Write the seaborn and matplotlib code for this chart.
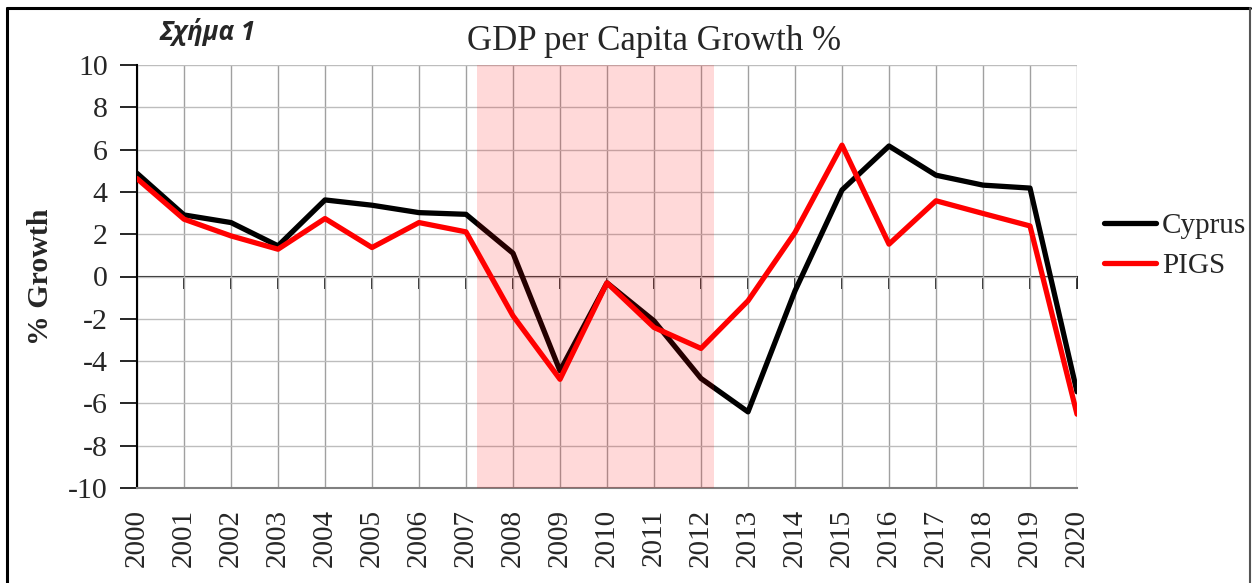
import matplotlib
matplotlib.use("Agg")
import matplotlib.pyplot as plt
import seaborn as sns
import pandas as pd
from matplotlib.lines import Line2D

years = list(range(2000, 2021))
cyprus = [4.88, 2.91, 2.55, 1.45, 3.62, 3.37, 3.02, 2.94, 1.10, -4.46, -0.30,
          -2.10, -4.82, -6.40, -0.68, 4.09, 6.17, 4.79, 4.32, 4.18, -5.45]
pigs = [4.63, 2.71, 1.92, 1.29, 2.74, 1.37, 2.55, 2.11, -1.86, -4.86, -0.30,
        -2.41, -3.40, -1.15, 2.08, 6.21, 1.53, 3.58, 2.98, 2.39, -6.51]
series_names = ["Cyprus", "PIGS"]
series_colors = ["black", "red"]
crisis_span = (2007.23, 2012.28)
title = "GDP per Capita Growth %"
ylabel = "% Growth"
figure_label = "Σχήμα 1"

df = pd.concat([
    pd.DataFrame({"Year": years, "Growth": cyprus, "Country": series_names[0]}),
    pd.DataFrame({"Year": years, "Growth": pigs, "Country": series_names[1]}),
])

sns.set_style("white")
plt.rcParams["font.family"] = ["Liberation Serif", "DejaVu Serif"]

W, H = 1252, 583
fig = plt.figure(figsize=(W / 100, H / 100), dpi=100)
ax = fig.add_axes([137 / W, 1 - 488 / H, (1077 - 137) / W, (488 - 65) / H])

sns.lineplot(data=df, x="Year", y="Growth", hue="Country",
             palette=dict(zip(series_names, series_colors)),
             linewidth=3.8, ax=ax, legend=False, zorder=5)

ax.set_xlim(2000, 2020)
ax.set_ylim(-10, 10)
ax.set_xticks(years)
ax.set_xticklabels([str(y) for y in years], rotation=90, fontsize=21)
ax.set_yticks(range(-10, 11, 2))
ax.set_yticklabels([str(v) for v in range(-10, 11, 2)], fontsize=21.5)
ax.tick_params(axis="x", length=0, pad=15)
ax.tick_params(axis="y", direction="out", length=12, width=1.2, color="black", pad=9, left=True)
ax.set_xlabel("")
ax.set_ylabel("")

ax.grid(True, axis="x", color="#a0a0a0", linewidth=1.0, zorder=1)
ax.grid(True, axis="y", color="#bdbdbd", linewidth=1.0, zorder=1)
ax.set_axisbelow(True)
for s in ["top", "right"]:
    ax.spines[s].set_visible(False)
ax.spines["left"].set_color("black")
ax.spines["left"].set_linewidth(1.5)
ax.spines["bottom"].set_color("#808080")
ax.spines["bottom"].set_linewidth(1.5)

# category axis crossing at zero
sec = ax.secondary_xaxis(0.5)
sec.set_xticks(years)
sec.set_xticklabels([])
sec.tick_params(direction="in", length=9, width=1.2, color="black")
sec.spines["bottom"].set_color("black")
sec.spines["bottom"].set_linewidth(1.2)

ax.axvspan(crisis_span[0], crisis_span[1], color="red", alpha=0.15, lw=0, zorder=10)

fig.text(654 / W, 1 - 42 / H, title, ha="center", va="center", fontsize=25)
fig.text(40 / W, 1 - 277 / H, ylabel, ha="center", va="center", rotation=90,
         fontsize=21.5, fontweight="bold")
fig.text(208 / W, 1 - 32 / H, figure_label, ha="center", va="center", fontsize=18.5,
         fontweight="bold", fontstyle="italic", family=["Open Sans", "DejaVu Sans"])

handles = [Line2D([], [], color=c, lw=3.8) for c in series_colors]
fig.legend(handles, series_names, loc="center left",
           bbox_to_anchor=(1092 / W, 1 - 246 / H), frameon=False, fontsize=21,
           handlelength=1.8, handletextpad=0.2, labelspacing=0.45, borderaxespad=0)

# outer frame of the chart
fig.add_artist(Line2D([7 / W, 7 / W], [-0.05, 1 - 8 / H], color="black", lw=2.2, transform=fig.transFigure))
fig.add_artist(Line2D([7 / W, 1250 / W], [1 - 8 / H, 1 - 8 / H], color="black", lw=2.2, transform=fig.transFigure))
fig.add_artist(Line2D([1250 / W, 1250 / W], [-0.05, 1 - 8 / H], color="#555555", lw=1.5, transform=fig.transFigure))

fig.savefig("out.png", dpi=100, facecolor="white")
